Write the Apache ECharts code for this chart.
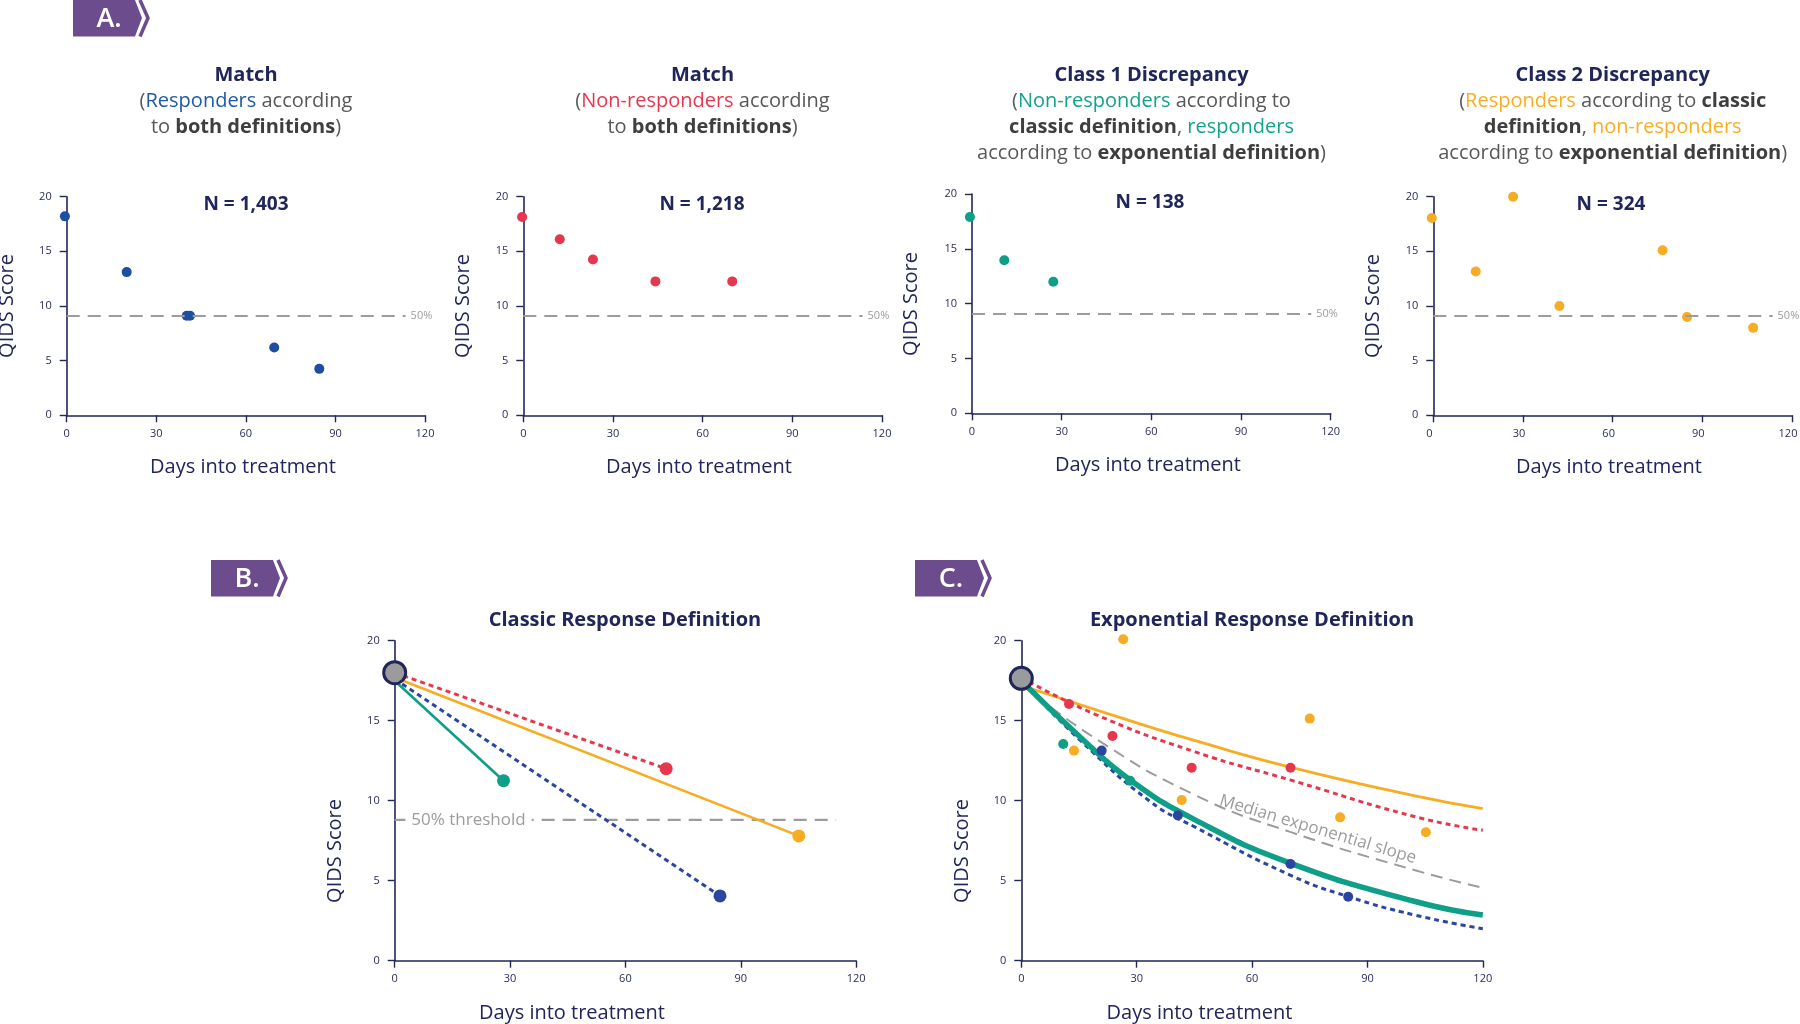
<!DOCTYPE html>
<html><head><meta charset="utf-8">
<script src="https://cdn.jsdelivr.net/npm/echarts@6/dist/echarts.min.js"></script>
<style>html,body{margin:0;padding:0;background:#fff}#c{width:1800px;height:1024px}</style>
</head><body><div id="c"></div>
<script>
// ---------- DATA ----------
const xTickLabels = ['0', '30', '60', '90', '120'];
const yTickLabels = ['0', '5', '10', '15', '20'];

// Panel A (examples)
const aRespDays = [-0.6, 20.1, 40.2, 41.3, 69.5, 84.6];
const aRespQids = [18.2, 13.1, 9.1, 9.1, 6.2, 4.25];
const aNonDays = [-0.4, 12.2, 23.3, 44.2, 69.9];
const aNonQids = [18.15, 16.1, 14.25, 12.25, 12.25];
const aC1Days = [-0.7, 10.8, 27.2];
const aC1Qids = [17.9, 13.95, 12.0];
const aC2Days = [-0.5, 14.2, 26.7, 42.2, 76.7, 84.9, 107];
const aC2Qids = [18.05, 13.15, 20.0, 10.0, 15.1, 9.0, 8.0];
const aCounts = ['N = 1,403', 'N = 1,218', 'N = 138', 'N = 324'];
const aThreshold = [0, 113.5, 9.1];      // from day, to day, QIDS

// Panel B (classic) : groups resp, non, class1, class2
const bBaseline = [0, 18];
const bStartQids = [17.6, 18.0, 17.5, 17.7];
const bEndDays = [84.6, 70.6, 28.3, 105.1];
const bEndQids = [4.05, 12.0, 11.25, 7.8];
const bThreshold = [0, 114.8, 8.8];
const bThresholdLabelDay = 19.2;

// Panel C (exponential)
const cBaseline = [0, 17.65];
const cRespDays = [20.9, 40.7, 70.0, 85.0];
const cRespQids = [13.13, 9.07, 6.04, 4.0];
const cNonDays = [12.4, 23.7, 44.3, 70.0];
const cNonQids = [16.04, 14.04, 12.06, 12.06];
const cC1Days = [10.9, 28.3];
const cC1Qids = [13.54, 11.25];
const cC2Days = [13.7, 26.5, 41.7, 75.0, 82.9, 105.2];
const cC2Qids = [13.13, 20.09, 10.04, 15.13, 8.96, 8.03];
const cFitC2Days = [0, 12.7, 33.5, 45.2, 69.9, 102.4, 120];
const cFitC2Qids = [17.2, 16.2, 14.6, 13.75, 12.1, 10.3, 9.5];
const cFitNonDays = [0, 19.2, 45.2, 69.9, 102.4, 120];
const cFitNonQids = [17.7, 15.4, 13.05, 11.3, 9.0, 8.15];
const cFitMedDays = [0, 19.2, 45.2, 69.9, 102.4, 121];
const cFitMedQids = [17.3, 13.9, 10.35, 8.05, 5.65, 4.5];
const cFitC1Days = [0, 15.2, 28.3, 45.2, 69.9, 102.4, 120];
const cFitC1Qids = [17.5, 14.0, 11.3, 8.8, 6.1, 3.7, 2.85];
const cFitRespDays = [0, 15.2, 33.5, 45.2, 69.9, 85.1, 102.4, 120];
const cFitRespQids = [17.5, 13.8, 9.95, 8.35, 5.35, 4.0, 2.85, 2.0];
const cMedianLabelAt = [77.1, 8.2];

// ---------- STYLE ----------
const FONT = '"Open Sans", "Noto Sans", sans-serif';
const NAVY = '#20255a';
const GRAY_TXT = '#585858';
const DARK_TXT = '#3e3e3e';
const BLUE = '#1d4f9e';
const BLUE_C = '#2a46a0';
const RED = '#e5384f';
const TEAL = '#0f9e88';
const ORANGE = '#f6ad23';
const TH_GRAY = '#9c9c9c';
const PURPLE = '#6d4c8e';
const CIRCLE_FILL = '#9b9b9d';

const zip = (a, b) => a.map((v, i) => [v, b[i]]);
const X_MIN = +xTickLabels[0], X_MAX = +xTickLabels[xTickLabels.length - 1], X_STEP = +xTickLabels[1] - +xTickLabels[0];
const Y_MIN = +yTickLabels[0], Y_MAX = +yTickLabels[yTickLabels.length - 1], Y_STEP = +yTickLabels[1] - +yTickLabels[0];

const grids = [
  {left: 66.7, top: 196.7, width: 358.3, height: 218.6},
  {left: 523.3, top: 196.7, width: 358.7, height: 218.6},
  {left: 972, top: 194, width: 358.7, height: 219.3},
  {left: 1433.3, top: 196.7, width: 358.7, height: 218.6},
  {left: 394.7, top: 640.7, width: 461.4, height: 320},
  {left: 1021.3, top: 640.7, width: 461.5, height: 320}
].map(g => Object.assign({outerBoundsMode: 'none', containLabel: false}, g));

const axisCommon = {
  axisLine: {show: true, lineStyle: {color: NAVY, width: 1.6}},
  axisTick: {show: true, length: 7, inside: false, lineStyle: {color: NAVY, width: 1.4}},
  splitLine: {show: false},
  axisLabel: {color: '#2a2d5c', fontSize: 11, fontFamily: FONT, margin: 13}
};
const xAxes = grids.map((g, i) => {
  const a = Object.assign({type: 'value', gridIndex: i, min: X_MIN, max: X_MAX, interval: X_STEP}, JSON.parse(JSON.stringify(axisCommon)));
  if (i === 3) a.axisLabel.padding = [0, 8, 0, 0];
  return a;
});
const yAxes = grids.map((g, i) => {
  const a = Object.assign({type: 'value', gridIndex: i, min: Y_MIN, max: Y_MAX, interval: Y_STEP}, JSON.parse(JSON.stringify(axisCommon)));
  a.axisLabel.margin = 15;
  return a;
});

function scatter(i, data, color, size, z, extra) {
  return Object.assign({
    type: 'scatter', xAxisIndex: i, yAxisIndex: i, data: data, symbolSize: size, z: z || 4, clip: false,
    itemStyle: {color: color, opacity: 1}, silent: true, animation: false
  }, extra || {});
}
function line(i, data, color, width, type, z, extra) {
  return Object.assign({
    type: 'line', xAxisIndex: i, yAxisIndex: i, data: data, showSymbol: false, symbol: 'none', z: z || 2, clip: false,
    lineStyle: {color: color, width: width, type: type, cap: 'butt'}, silent: true, animation: false
  }, extra || {});
}
function thresholdMark(th, withLabel) {
  return {
    silent: true, symbol: 'none', animation: false,
    lineStyle: {color: TH_GRAY, width: 2, type: [13, 8]},
    label: withLabel ? {show: true, position: 'end', formatter: '50%', color: TH_GRAY, fontSize: 11, fontFamily: FONT, distance: 5} : {show: false},
    emphasis: {disabled: true},
    data: [[{coord: [th[0], th[2]]}, {coord: [th[1], th[2]]}]]
  };
}

const series = [];
// Panel A
const aSets = [[aRespDays, aRespQids, BLUE], [aNonDays, aNonQids, RED], [aC1Days, aC1Qids, TEAL], [aC2Days, aC2Qids, ORANGE]];
aSets.forEach((s, i) => {
  series.push(scatter(i, zip(s[0], s[1]), s[2], 10, 4, {markLine: thresholdMark(aThreshold, true)}));
});

// Panel B
const bColors = [BLUE_C, RED, TEAL, ORANGE];
const bTypes = [[5, 4], [5, 4], 'solid', 'solid'];
const bWidths = [3, 3, 2.6, 2.6];
series.push(line(4, [[bThreshold[0], bThreshold[2]], [bThreshold[1], bThreshold[2]]], TH_GRAY, 2.2, [13, 8], 1));
bEndDays.forEach((d, k) => {
  series.push(line(4, [[bBaseline[0], bStartQids[k]], [d, bEndQids[k]]], bColors[k], bWidths[k], bTypes[k], 2));
});
series.push(scatter(4, zip(bEndDays, bEndQids), null, 13, 4,
  {itemStyle: {color: (p) => bColors[p.dataIndex], opacity: 1}}));
series.push(scatter(4, [[bThresholdLabelDay, bThreshold[2]]], 'rgba(0,0,0,0)', 1, 3, {
  label: {show: true, position: 'inside', formatter: '50% threshold', color: TH_GRAY, fontSize: 17, fontFamily: FONT,
    backgroundColor: '#ffffff', padding: [1, 6]}
}));
series.push(scatter(4, [bBaseline], CIRCLE_FILL, 22, 6, {itemStyle: {color: CIRCLE_FILL, borderColor: NAVY, borderWidth: 3, opacity: 1}}));

// Panel C
const smoothOpt = {smooth: 0.5};
series.push(line(5, zip(cFitMedDays, cFitMedQids), TH_GRAY, 2, [12, 7], 1, smoothOpt));
series.push(line(5, zip(cFitC2Days, cFitC2Qids), ORANGE, 2.8, 'solid', 2, smoothOpt));
series.push(line(5, zip(cFitNonDays, cFitNonQids), RED, 3, [5, 4], 2, smoothOpt));
series.push(line(5, zip(cFitRespDays, cFitRespQids), BLUE_C, 3, [5, 4], 2, smoothOpt));
series.push(line(5, zip(cFitC1Days, cFitC1Qids), TEAL, 5.5, 'solid', 2, smoothOpt));
series.push(scatter(5, zip(cC2Days, cC2Qids), ORANGE, 10, 4));
series.push(scatter(5, zip(cNonDays, cNonQids), RED, 10, 4));
series.push(scatter(5, zip(cRespDays, cRespQids), BLUE_C, 10, 4));
series.push(scatter(5, zip(cC1Days, cC1Qids), TEAL, 10, 4));
series.push(scatter(5, [cMedianLabelAt], 'rgba(0,0,0,0)', 1, 3, {
  label: {show: true, position: 'inside', formatter: 'Median exponential slope', color: TH_GRAY, fontSize: 17, fontFamily: FONT, rotate: -16.6}
}));
series.push(scatter(5, [cBaseline], CIRCLE_FILL, 22, 6, {itemStyle: {color: CIRCLE_FILL, borderColor: NAVY, borderWidth: 3, opacity: 1}}));

// ---------- TEXT / DECORATION ----------
const tok = (fill, bold) => ({fontSize: 20, fontWeight: bold ? 'bold' : 'normal', fill: fill, lineHeight: 26, fontFamily: FONT});
const rich = {
  t: tok(NAVY, true),
  n: tok(GRAY_TXT, false),
  b: tok(DARK_TXT, true),
  blue: tok('#1f5aa8', false),
  red: tok(RED, false),
  teal: tok('#12a38c', false),
  orange: tok('#f8ae22', false)
};
const titles = [
  [246, '{t|Match}\n{n|(}{blue|Responders}{n| according}\n{n|to }{b|both definitions}{n|)}'],
  [702.5, '{t|Match}\n{n|(}{red|Non-responders}{n| according}\n{n|to }{b|both definitions}{n|)}'],
  [1151.5, '{t|Class 1 Discrepancy}\n{n|(}{teal|Non-responders}{n| according to}\n{b|classic definition}{n|, }{teal|responders}\n{n|according to }{b|exponential definition}{n|)}'],
  [1612.7, '{t|Class 2 Discrepancy}\n{n|(}{orange|Responders}{n| according to }{b|classic}\n{b|definition}{n|, }{orange|non-responders}\n{n|according to }{b|exponential definition}{n|)}']
];
const graphic = [];
titles.forEach(t => graphic.push({type: 'text', x: t[0], y: 62, silent: true,
  style: {text: t[1], rich: rich, align: 'center', verticalAlign: 'top', fontFamily: FONT, fontSize: 20, fill: GRAY_TXT}}));
const nPos = [[246, 205], [702, 205], [1150, 203], [1611, 205]];
aCounts.forEach((s, i) => graphic.push({type: 'text', x: nPos[i][0], y: nPos[i][1], silent: true,
  style: {text: s, fill: NAVY, fontSize: 19, fontWeight: 'bold', fontFamily: FONT, align: 'center', verticalAlign: 'middle'}}));
[[625, 'Classic Response Definition'], [1252, 'Exponential Response Definition']].forEach(t => graphic.push({type: 'text', x: t[0], y: 620, silent: true,
  style: {text: t[1], fill: NAVY, fontSize: 20, fontWeight: 'bold', fontFamily: FONT, align: 'center', verticalAlign: 'middle'}}));

const yNamePos = [[7, 306], [463, 306], [911, 304], [1373, 306], [335, 851], [962, 851]];
const xNamePos = [[243, 467], [699, 467], [1148, 465], [1609, 467], [572, 1013], [1199.5, 1013]];
yNamePos.forEach(p => graphic.push({type: 'text', x: p[0], y: p[1], rotation: Math.PI / 2, silent: true,
  style: {text: 'QIDS Score', fill: NAVY, fontSize: 20, fontFamily: FONT, align: 'center', verticalAlign: 'middle'}}));
xNamePos.forEach(p => graphic.push({type: 'text', x: p[0], y: p[1], silent: true,
  style: {text: 'Days into treatment', fill: NAVY, fontSize: 20, fontFamily: FONT, align: 'center', verticalAlign: 'middle'}}));

[[73, 0, 'A.'], [211, 560, 'B.'], [915, 560, 'C.']].forEach(b => {
  const x0 = b[0], y0 = b[1];
  graphic.push({type: 'polygon', silent: true, shape: {points: [[x0, y0], [x0 + 62, y0], [x0 + 69, y0 + 18], [x0 + 62, y0 + 36.5], [x0, y0 + 36.5]]}, style: {fill: PURPLE}});
  graphic.push({type: 'polyline', silent: true, shape: {points: [[x0 + 67, y0], [x0 + 75, y0 + 18], [x0 + 67, y0 + 36.5]]}, style: {stroke: PURPLE, lineWidth: 3.5, fill: null}});
  graphic.push({type: 'text', x: x0 + 36, y: y0 + 19, silent: true,
    style: {text: b[2], fill: '#ffffff', fontSize: 27, fontWeight: 600, fontFamily: FONT, align: 'center', verticalAlign: 'middle'}});
});

const chart = echarts.init(document.getElementById('c'), null, {renderer: 'canvas'});
chart.setOption({
  animation: false,
  backgroundColor: '#ffffff',
  textStyle: {fontFamily: FONT},
  grid: grids,
  xAxis: xAxes,
  yAxis: yAxes,
  series: series,
  graphic: graphic
});
</script></body></html>
